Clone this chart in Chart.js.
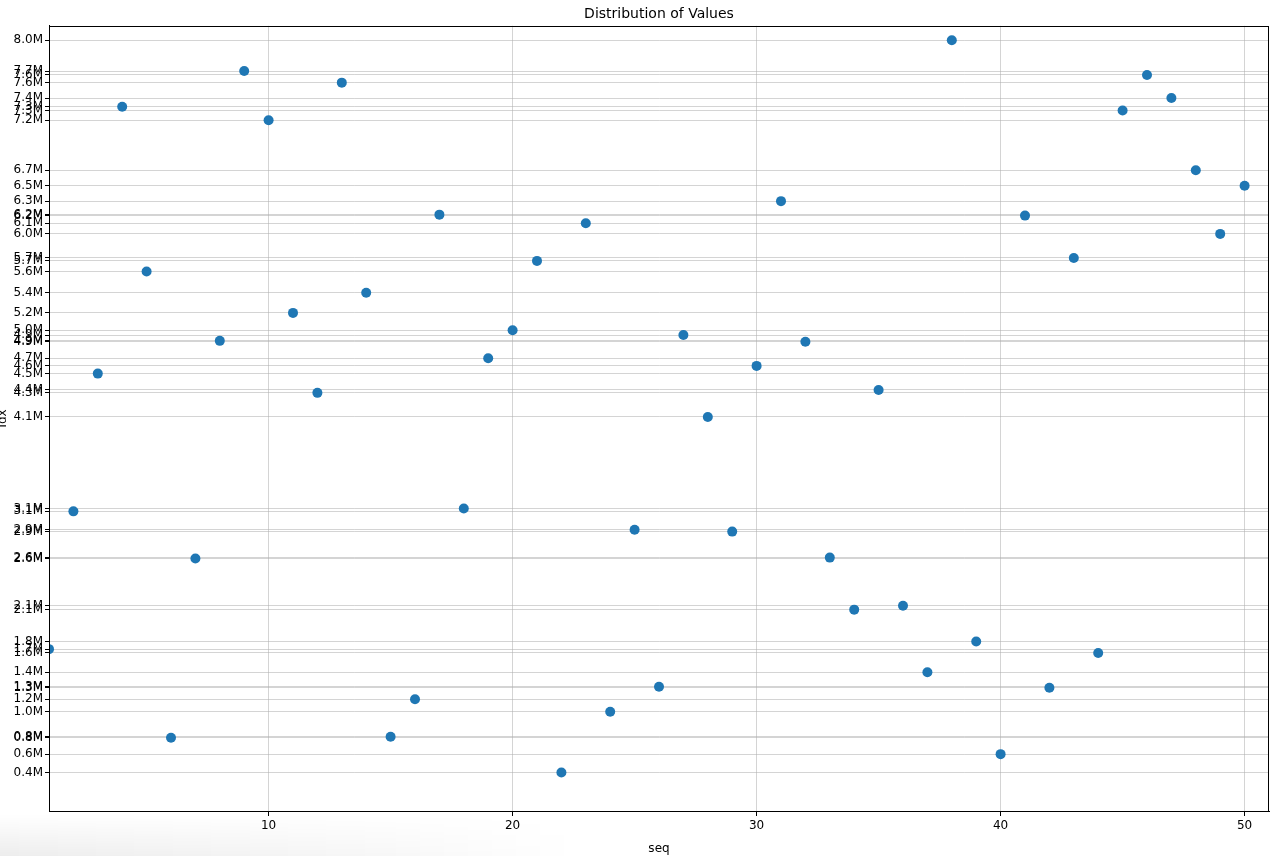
<!DOCTYPE html>
<html>
<head>
<meta charset="utf-8">
<script src="https://cdn.jsdelivr.net/npm/chart.js@4/dist/chart.umd.min.js"></script>
<style>
  html, body { margin: 0; padding: 0; background: #fff; }
  #wrap { position: relative; width: 1280px; height: 856px; }
  #shade {
    position: absolute; left: 0; bottom: 0; width: 1280px; height: 42px;
    background: linear-gradient(to right, rgba(0,0,0,0.07), rgba(0,0,0,0.03) 30%, rgba(0,0,0,0) 45%);
    -webkit-mask-image: linear-gradient(to bottom, transparent, black);
  }
  canvas { position: absolute; left: 0; top: 0; }
</style>
</head>
<body>
<div id="wrap">
  <div id="shade"></div>
  <canvas id="c" width="1280" height="856"></canvas>
</div>
<script>
// scatter: idx against seq, one y tick per value

const seq = [
  1, 2, 3, 4, 5, 6, 7, 8, 9, 10,
  11, 12, 13, 14, 15, 16, 17, 18, 19, 20,
  21, 22, 23, 24, 25, 26, 27, 28, 29, 30,
  31, 32, 33, 34, 35, 36, 37, 38, 39, 40,
  41, 42, 43, 44, 45, 46, 47, 48, 49, 50,
];
const idx = [
  1680000, 3110000, 4540000, 7310000, 5600000, 760000, 2620000, 4880000, 7680000, 7170000,
  5170000, 4340000, 7560000, 5380000, 770000, 1160000, 6190000, 3140000, 4700000, 4990000,
  5710000, 400000, 6100000, 1030000, 2920000, 1290000, 4940000, 4090000, 2900000, 4620000,
  6330000, 4870000, 2630000, 2090000, 4370000, 2130000, 1440000, 8000000, 1760000, 590000,
  6180000, 1280000, 5740000, 1640000, 7270000, 7640000, 7400000, 6650000, 5990000, 6490000,
];
const xTicks = [10, 20, 30, 40, 50];
const yTicks = idx; // every value gets its own tick

const FONT = "'DejaVu Sans', sans-serif";
const GRID = "rgba(176,176,176,0.55)";

Chart.defaults.font.family = FONT;
Chart.defaults.font.size = 12;
Chart.defaults.color = "#000";

const frame = {
  id: "frame",
  afterDraw(chart) {
    const { ctx, chartArea: a } = chart;
    ctx.save();
    ctx.strokeStyle = "#000";
    ctx.lineWidth = 1;
    ctx.strokeRect(Math.round(a.left) + 0.5, Math.round(a.top) + 0.5,
      Math.round(a.right - a.left) - 1, Math.round(a.bottom - a.top));
    ctx.restore();
  },
};

new Chart(document.getElementById("c"), {
  type: "scatter",
  data: {
    datasets: [{
      label: "idx",
      data: seq.map((s, i) => ({ x: s, y: idx[i] })),
      backgroundColor: "#1f77b4", borderWidth: 0,
      pointRadius: 5, pointHoverRadius: 5,
    }],
  },
  plugins: [frame],
  options: {
    responsive: false, animation: false,
    events: [],
    layout: { padding: { top: 0, right: 11, bottom: 0, left: 0 } },
    plugins: {
      legend: { display: false },
      tooltip: { enabled: false },
      title: {
        display: true, text: "Distribution of Values", fullSize: false,
        color: "#000", font: { size: 14, weight: "normal" },
        padding: { top: 6, bottom: 3 },
      },
    },
    scales: {
      x: {
        type: "linear", min: 1, max: 51, z: 1,
        afterBuildTicks: (s) => { s.ticks = xTicks.map((v) => ({ value: v })); },
        afterFit: (s) => { s.height = 45; },
        grid: { color: GRID, lineWidth: 1, tickLength: 5, tickColor: "#000" },
        border: { color: "#000", width: 1 },
        ticks: { color: "#000", padding: 3, autoSkip: false, maxRotation: 0 },
        title: { display: true, text: "seq", color: "#000", font: { size: 12 }, padding: { top: 3, bottom: 0 } },
      },
      y: {
        type: "linear", min: 0, max: 8150000, z: 1,
        afterBuildTicks: (s) => { s.ticks = yTicks.map((v) => ({ value: v })); },
        afterFit: (s) => { s.width = 49; },
        grid: { color: GRID, lineWidth: 1, tickLength: 4, tickColor: "#000" },
        border: { color: "#000", width: 1 },
        ticks: {
          color: "#000", padding: 2, autoSkip: false,
          callback: (v) => (v / 1e6).toFixed(1) + "M",
        },
        title: { display: true, text: "idx", color: "#000", font: { size: 12 }, padding: { top: -4, bottom: 0 } },
      },
    },
  },
});
</script>
</body>
</html>
